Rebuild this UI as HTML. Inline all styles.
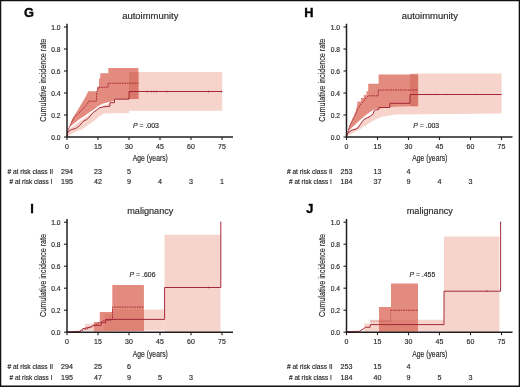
<!DOCTYPE html>
<html><head><meta charset="utf-8"><style>
html,body{margin:0;padding:0;background:#fff;}
svg{display:block;filter:blur(0.35px);}
svg.bd{position:absolute;left:0;top:0;filter:none;}
body{position:relative;width:520px;height:387px;overflow:hidden;}
text{font-family:"Liberation Sans", sans-serif;stroke:#2a2a2a;stroke-width:0.17px;}
</style></head><body>
<svg width="520" height="387" viewBox="0 0 520 387">
<rect x="0" y="0" width="520" height="387" fill="#fff"/>
<polygon points="67.0,137.0 67.7,131.5 69.2,129.4 71.5,127.5 74.0,125.8 76.1,124.0 79.2,121.5 82.3,119.5 85.4,117.4 88.5,115.3 91.6,113.0 94.5,111.0 97.0,109.2 99.1,107.5 103.2,105.5 109.0,103.5 114.5,101.0 129.0,95.0 129.0,72.0 222.2,72.0 222.2,110.8 129.0,110.8 129.0,112.9 104.0,113.4 99.1,116.5 96.0,119.5 89.3,124.2 81.5,129.6 73.8,132.7 69.0,135.5" fill="#f6d3cb"/>
<polygon points="67.0,137.0 68.0,130.0 70.0,125.0 71.7,120.0 75.3,114.1 78.4,108.9 81.5,103.8 84.6,98.6 86.7,94.5 88.2,91.2 97.0,91.2 97.0,86.7 99.0,86.7 99.0,78.5 100.3,78.5 100.3,73.3 108.3,73.3 108.3,67.9 138.4,67.9 138.4,99.0 114.5,99.3 114.5,101.0 109.9,101.8 103.2,103.5 99.1,105.5 97.0,107.0 94.5,109.0 91.6,111.0 88.5,113.1 85.4,115.2 82.3,117.3 79.2,119.3 76.1,121.8 73.0,124.3 70.5,126.3 68.5,129.5 67.5,133.0" fill="#e38b7e"/>
<polygon points="129.0,72.0 138.4,72.0 138.4,99.0 129.0,99.0" fill="#d9776a"/>
<polyline points="67.0,137.0 67.5,133.0 69.1,131.1 71.4,129.6 75.3,128.6 77.5,127.3 79.5,125.6 81.8,122.8 84.0,120.8 86.5,119.6 88.5,118.0 90.0,116.2 91.7,114.1 93.3,112.4 96.5,110.2 99.1,107.9 103.2,106.9 109.9,106.2 109.9,102.7 114.5,102.7 114.5,99.2 129.0,99.2 129.0,91.5 222.2,91.5" fill="none" stroke="#a02232" stroke-width="0.95"/>
<polyline points="67.0,137.0 67.8,131.0 69.5,126.5 72.5,121.0 74.0,117.2 77.1,114.7 80.2,111.6 84.0,107.8 87.5,104.0 88.5,101.2 96.3,101.2 96.8,92.0 98.5,87.3 108.1,87.3 108.1,83.2 138.4,83.2" fill="none" stroke="#a02232" stroke-width="0.95" stroke-dasharray="1.6,0.9"/>
<rect x="146.7" y="90.7" width="0.8" height="1.7" fill="#a02232"/>
<rect x="151.0" y="90.7" width="0.8" height="1.7" fill="#a02232"/>
<rect x="153.6" y="90.7" width="0.8" height="1.7" fill="#a02232"/>
<rect x="156.2" y="90.7" width="0.8" height="1.7" fill="#a02232"/>
<rect x="166.6" y="90.7" width="0.8" height="1.7" fill="#a02232"/>
<rect x="208.1" y="90.7" width="0.8" height="1.7" fill="#a02232"/>
<rect x="221.1" y="90.7" width="0.8" height="1.7" fill="#a02232"/>
<polygon points="346.5,137.0 347.1,133.3 349.1,131.2 352.2,129.2 355.0,128.6 357.7,127.3 360.4,123.6 362.2,120.9 364.0,118.7 367.7,116.8 370.4,115.5 373.1,112.8 378.0,108.5 390.0,104.0 410.0,95.0 410.0,73.4 501.6,73.4 501.6,113.5 395.0,114.5 382.0,116.7 378.5,118.1 373.1,120.8 368.0,124.0 364.0,126.5 358.0,130.5 352.0,133.5 348.0,135.8" fill="#f6d3cb"/>
<polygon points="346.5,137.0 347.8,131.0 349.3,126.0 351.5,121.0 353.8,116.0 355.7,111.5 356.8,106.5 357.4,103.5 357.4,101.6 361.0,101.6 361.0,98.0 363.8,98.0 363.8,94.9 366.5,94.9 366.5,91.2 368.2,91.2 368.2,83.8 378.6,83.8 378.6,74.4 418.1,74.4 418.1,106.2 410.0,106.2 395.0,106.8 389.8,107.2 378.5,108.4 373.1,110.0 368.0,113.5 364.0,116.5 360.0,120.0 356.0,123.8 352.0,127.5 349.0,130.5 347.5,133.5" fill="#e38b7e"/>
<polygon points="410.0,74.4 418.1,74.4 418.1,106.2 410.0,106.2" fill="#d9776a"/>
<polyline points="346.5,137.0 347.1,134.1 349.1,132.0 352.2,130.0 355.0,129.4 357.7,128.1 360.4,124.4 362.2,121.7 364.0,119.5 367.7,117.6 370.4,116.3 373.1,113.6 374.0,110.9 375.8,110.0 378.8,109.5 378.8,107.5 389.8,107.5 389.8,103.3 410.0,103.3 410.0,94.5 501.6,94.5" fill="none" stroke="#a02232" stroke-width="0.95"/>
<polyline points="346.5,137.0 348.3,131.0 349.8,126.0 351.8,121.5 354.3,117.0 356.3,112.4 358.2,108.3 359.8,106.0 361.2,104.1 363.0,102.1 364.8,100.0 366.5,97.5 368.3,95.8 378.3,95.8 378.3,90.0 418.1,90.0" fill="none" stroke="#a02232" stroke-width="0.95" stroke-dasharray="1.6,0.9"/>
<rect x="425.6" y="93.8" width="0.7" height="1.3" fill="#a02232"/>
<rect x="428.6" y="93.8" width="0.7" height="1.3" fill="#a02232"/>
<rect x="431.6" y="93.8" width="0.7" height="1.3" fill="#a02232"/>
<rect x="434.6" y="93.8" width="0.7" height="1.3" fill="#a02232"/>
<rect x="437.1" y="93.8" width="0.7" height="1.3" fill="#a02232"/>
<rect x="445.6" y="93.8" width="0.7" height="1.3" fill="#a02232"/>
<rect x="476.6" y="93.8" width="0.7" height="1.3" fill="#a02232"/>
<polygon points="164.6,234.7 220.5,234.7 220.5,332.0 164.6,332.0" fill="#f6d3cb"/>
<polygon points="112.3,309.6 164.6,309.6 164.6,330.5 104.4,330.5 104.4,314.0 112.3,314.0" fill="#f6d3cb"/>
<polygon points="85.0,323.8 104.4,323.8 104.4,331.0 85.0,331.0" fill="#f6d3cb"/>
<polygon points="93.8,331.5 93.8,322.0 99.8,322.0 99.8,312.0 112.3,312.0 112.3,285.0 143.9,285.0 143.9,331.0" fill="#e38b7e"/>
<polygon points="112.3,309.6 143.9,309.6 143.9,330.5 104.4,330.5 104.4,314.0 112.3,314.0" fill="#de8274"/>
<polyline points="67.0,332.0 79.6,331.5 83.0,328.7 91.2,326.9 93.5,325.3 101.0,325.3 101.5,322.6 105.7,322.6 105.7,319.4 164.6,319.4 164.6,287.5 220.8,287.5 220.8,221.6" fill="none" stroke="#a02232" stroke-width="0.95"/>
<polyline points="67.0,332.0 80.0,331.2 88.0,328.5 93.8,325.5 100.0,322.5 104.0,320.5 112.5,320.0 112.5,307.1 143.9,307.1" fill="none" stroke="#a02232" stroke-width="0.95" stroke-dasharray="1.6,0.9"/>
<rect x="208.3" y="286.6" width="0.8" height="1.7" fill="#a02232"/>
<polygon points="444.0,236.5 499.4,236.5 499.4,332.0 444.0,332.0" fill="#f6d3cb"/>
<polygon points="370.0,319.8 444.0,319.8 444.0,331.5 370.0,331.5" fill="#f6d3cb"/>
<polygon points="364.2,323.5 370.0,323.5 370.0,332.0 364.2,332.0" fill="#f6d3cb"/>
<polygon points="379.0,331.5 379.0,307.0 391.0,307.0 391.0,283.6 418.0,283.6 418.0,331.5" fill="#e38b7e"/>
<polygon points="379.0,319.8 418.0,319.8 418.0,331.5 379.0,331.5" fill="#de8274"/>
<polyline points="346.5,331.6 359.6,331.3 363.0,329.2 365.4,327.3 370.0,327.3 370.6,324.6 444.0,324.6 444.0,291.2 500.6,291.2 500.6,221.6" fill="none" stroke="#a02232" stroke-width="0.95"/>
<polyline opacity="0.45" points="370.7,321.2 390.6,321.2 390.6,310.3" fill="none" stroke="#a02232" stroke-width="0.95" stroke-dasharray="1.6,0.9"/>
<polyline points="390.6,310.3 418.0,310.3" fill="none" stroke="#a02232" stroke-width="0.95" stroke-dasharray="1.6,0.9"/>
<rect x="486.6" y="290.3" width="0.8" height="1.7" fill="#a02232"/>
<path d="M67.0,23.8 V137.0 H233.0" fill="none" stroke="#231f20" stroke-width="1.5"/>
<path d="M64.0,137.0 H67.0" stroke="#231f20" stroke-width="1.1"/>
<text x="60.6" y="139.6" text-anchor="end" font-size="7.3" fill="#2a2a2a" textLength="9.3" lengthAdjust="spacingAndGlyphs">0.0</text>
<path d="M64.0,115.0 H67.0" stroke="#231f20" stroke-width="1.1"/>
<text x="60.6" y="117.6" text-anchor="end" font-size="7.3" fill="#2a2a2a" textLength="9.3" lengthAdjust="spacingAndGlyphs">0.2</text>
<path d="M64.0,93.0 H67.0" stroke="#231f20" stroke-width="1.1"/>
<text x="60.6" y="95.6" text-anchor="end" font-size="7.3" fill="#2a2a2a" textLength="9.3" lengthAdjust="spacingAndGlyphs">0.4</text>
<path d="M64.0,71.0 H67.0" stroke="#231f20" stroke-width="1.1"/>
<text x="60.6" y="73.6" text-anchor="end" font-size="7.3" fill="#2a2a2a" textLength="9.3" lengthAdjust="spacingAndGlyphs">0.6</text>
<path d="M64.0,49.0 H67.0" stroke="#231f20" stroke-width="1.1"/>
<text x="60.6" y="51.6" text-anchor="end" font-size="7.3" fill="#2a2a2a" textLength="9.3" lengthAdjust="spacingAndGlyphs">0.8</text>
<path d="M64.0,27.0 H67.0" stroke="#231f20" stroke-width="1.1"/>
<text x="60.6" y="29.6" text-anchor="end" font-size="7.3" fill="#2a2a2a" textLength="9.3" lengthAdjust="spacingAndGlyphs">1.0</text>
<path d="M67.0,137.0 V140.0" stroke="#231f20" stroke-width="1.1"/>
<text x="67.0" y="149.2" text-anchor="middle" font-size="7.8" fill="#2a2a2a" textLength="3.9" lengthAdjust="spacingAndGlyphs">0</text>
<path d="M98.0,137.0 V140.0" stroke="#231f20" stroke-width="1.1"/>
<text x="98.0" y="149.2" text-anchor="middle" font-size="7.8" fill="#2a2a2a" textLength="7.8" lengthAdjust="spacingAndGlyphs">15</text>
<path d="M129.0,137.0 V140.0" stroke="#231f20" stroke-width="1.1"/>
<text x="129.0" y="149.2" text-anchor="middle" font-size="7.8" fill="#2a2a2a" textLength="7.8" lengthAdjust="spacingAndGlyphs">30</text>
<path d="M160.0,137.0 V140.0" stroke="#231f20" stroke-width="1.1"/>
<text x="160.0" y="149.2" text-anchor="middle" font-size="7.8" fill="#2a2a2a" textLength="7.8" lengthAdjust="spacingAndGlyphs">45</text>
<path d="M191.0,137.0 V140.0" stroke="#231f20" stroke-width="1.1"/>
<text x="191.0" y="149.2" text-anchor="middle" font-size="7.8" fill="#2a2a2a" textLength="7.8" lengthAdjust="spacingAndGlyphs">60</text>
<path d="M222.0,137.0 V140.0" stroke="#231f20" stroke-width="1.1"/>
<text x="222.0" y="149.2" text-anchor="middle" font-size="7.8" fill="#2a2a2a" textLength="7.8" lengthAdjust="spacingAndGlyphs">75</text>
<text x="33.9" y="17.3" text-anchor="end" font-size="12.8" font-weight="bold" fill="#000" style="stroke:#000;stroke-width:0.35px">G</text>
<text x="150.3" y="18.5" text-anchor="middle" font-size="9.3" fill="#2a2a2a" textLength="56.3" lengthAdjust="spacingAndGlyphs">autoimmunity</text>
<text transform="translate(45.7,80.2) rotate(-90)" x="0" y="0" text-anchor="middle" font-size="9.2" fill="#2a2a2a" textLength="83" lengthAdjust="spacingAndGlyphs">Cumulative incidence rate</text>
<text x="150.3" y="161.3" text-anchor="middle" font-size="8.6" fill="#2a2a2a" textLength="35" lengthAdjust="spacingAndGlyphs">Age (years)</text>
<text x="53.1" y="174.0" text-anchor="end" font-size="7" fill="#2a2a2a" textLength="45.7" lengthAdjust="spacingAndGlyphs"># at risk class II</text>
<text x="52.3" y="184.3" text-anchor="end" font-size="7" fill="#2a2a2a" textLength="42.8" lengthAdjust="spacingAndGlyphs"># at risk class I</text>
<text x="67.0" y="174.0" text-anchor="middle" font-size="7.2" fill="#2a2a2a" textLength="11.9" lengthAdjust="spacingAndGlyphs">294</text>
<text x="98.0" y="174.0" text-anchor="middle" font-size="7.2" fill="#2a2a2a" textLength="7.9" lengthAdjust="spacingAndGlyphs">23</text>
<text x="129.0" y="174.0" text-anchor="middle" font-size="7.2" fill="#2a2a2a" textLength="4.0" lengthAdjust="spacingAndGlyphs">5</text>
<text x="67.0" y="184.3" text-anchor="middle" font-size="7.2" fill="#2a2a2a" textLength="11.9" lengthAdjust="spacingAndGlyphs">195</text>
<text x="98.0" y="184.3" text-anchor="middle" font-size="7.2" fill="#2a2a2a" textLength="7.9" lengthAdjust="spacingAndGlyphs">42</text>
<text x="129.0" y="184.3" text-anchor="middle" font-size="7.2" fill="#2a2a2a" textLength="4.0" lengthAdjust="spacingAndGlyphs">9</text>
<text x="160.0" y="184.3" text-anchor="middle" font-size="7.2" fill="#2a2a2a" textLength="4.0" lengthAdjust="spacingAndGlyphs">4</text>
<text x="191.0" y="184.3" text-anchor="middle" font-size="7.2" fill="#2a2a2a" textLength="4.0" lengthAdjust="spacingAndGlyphs">3</text>
<text x="222.0" y="184.3" text-anchor="middle" font-size="7.2" fill="#2a2a2a" textLength="4.0" lengthAdjust="spacingAndGlyphs">1</text>
<text x="133.0" y="127.8" font-size="7" fill="#2a2a2a" textLength="25.9" lengthAdjust="spacingAndGlyphs"><tspan font-style="italic">P</tspan> = .003</text>
<path d="M346.5,23.8 V137.0 H512.5" fill="none" stroke="#231f20" stroke-width="1.5"/>
<path d="M343.5,137.0 H346.5" stroke="#231f20" stroke-width="1.1"/>
<text x="340.1" y="139.6" text-anchor="end" font-size="7.3" fill="#2a2a2a" textLength="9.3" lengthAdjust="spacingAndGlyphs">0.0</text>
<path d="M343.5,115.0 H346.5" stroke="#231f20" stroke-width="1.1"/>
<text x="340.1" y="117.6" text-anchor="end" font-size="7.3" fill="#2a2a2a" textLength="9.3" lengthAdjust="spacingAndGlyphs">0.2</text>
<path d="M343.5,93.0 H346.5" stroke="#231f20" stroke-width="1.1"/>
<text x="340.1" y="95.6" text-anchor="end" font-size="7.3" fill="#2a2a2a" textLength="9.3" lengthAdjust="spacingAndGlyphs">0.4</text>
<path d="M343.5,71.0 H346.5" stroke="#231f20" stroke-width="1.1"/>
<text x="340.1" y="73.6" text-anchor="end" font-size="7.3" fill="#2a2a2a" textLength="9.3" lengthAdjust="spacingAndGlyphs">0.6</text>
<path d="M343.5,49.0 H346.5" stroke="#231f20" stroke-width="1.1"/>
<text x="340.1" y="51.6" text-anchor="end" font-size="7.3" fill="#2a2a2a" textLength="9.3" lengthAdjust="spacingAndGlyphs">0.8</text>
<path d="M343.5,27.0 H346.5" stroke="#231f20" stroke-width="1.1"/>
<text x="340.1" y="29.6" text-anchor="end" font-size="7.3" fill="#2a2a2a" textLength="9.3" lengthAdjust="spacingAndGlyphs">1.0</text>
<path d="M346.5,137.0 V140.0" stroke="#231f20" stroke-width="1.1"/>
<text x="346.5" y="149.2" text-anchor="middle" font-size="7.8" fill="#2a2a2a" textLength="3.9" lengthAdjust="spacingAndGlyphs">0</text>
<path d="M377.5,137.0 V140.0" stroke="#231f20" stroke-width="1.1"/>
<text x="377.5" y="149.2" text-anchor="middle" font-size="7.8" fill="#2a2a2a" textLength="7.8" lengthAdjust="spacingAndGlyphs">15</text>
<path d="M408.5,137.0 V140.0" stroke="#231f20" stroke-width="1.1"/>
<text x="408.5" y="149.2" text-anchor="middle" font-size="7.8" fill="#2a2a2a" textLength="7.8" lengthAdjust="spacingAndGlyphs">30</text>
<path d="M439.5,137.0 V140.0" stroke="#231f20" stroke-width="1.1"/>
<text x="439.5" y="149.2" text-anchor="middle" font-size="7.8" fill="#2a2a2a" textLength="7.8" lengthAdjust="spacingAndGlyphs">45</text>
<path d="M470.5,137.0 V140.0" stroke="#231f20" stroke-width="1.1"/>
<text x="470.5" y="149.2" text-anchor="middle" font-size="7.8" fill="#2a2a2a" textLength="7.8" lengthAdjust="spacingAndGlyphs">60</text>
<path d="M501.5,137.0 V140.0" stroke="#231f20" stroke-width="1.1"/>
<text x="501.5" y="149.2" text-anchor="middle" font-size="7.8" fill="#2a2a2a" textLength="7.8" lengthAdjust="spacingAndGlyphs">75</text>
<text x="313.4" y="17.3" text-anchor="end" font-size="12.8" font-weight="bold" fill="#000" style="stroke:#000;stroke-width:0.35px">H</text>
<text x="429.8" y="18.5" text-anchor="middle" font-size="9.3" fill="#2a2a2a" textLength="56.3" lengthAdjust="spacingAndGlyphs">autoimmunity</text>
<text transform="translate(325.2,80.2) rotate(-90)" x="0" y="0" text-anchor="middle" font-size="9.2" fill="#2a2a2a" textLength="83" lengthAdjust="spacingAndGlyphs">Cumulative incidence rate</text>
<text x="429.8" y="161.3" text-anchor="middle" font-size="8.6" fill="#2a2a2a" textLength="35" lengthAdjust="spacingAndGlyphs">Age (years)</text>
<text x="332.6" y="174.0" text-anchor="end" font-size="7" fill="#2a2a2a" textLength="45.7" lengthAdjust="spacingAndGlyphs"># at risk class II</text>
<text x="331.8" y="184.3" text-anchor="end" font-size="7" fill="#2a2a2a" textLength="42.8" lengthAdjust="spacingAndGlyphs"># at risk class I</text>
<text x="346.5" y="174.0" text-anchor="middle" font-size="7.2" fill="#2a2a2a" textLength="11.9" lengthAdjust="spacingAndGlyphs">253</text>
<text x="377.5" y="174.0" text-anchor="middle" font-size="7.2" fill="#2a2a2a" textLength="7.9" lengthAdjust="spacingAndGlyphs">13</text>
<text x="408.5" y="174.0" text-anchor="middle" font-size="7.2" fill="#2a2a2a" textLength="4.0" lengthAdjust="spacingAndGlyphs">4</text>
<text x="346.5" y="184.3" text-anchor="middle" font-size="7.2" fill="#2a2a2a" textLength="11.9" lengthAdjust="spacingAndGlyphs">184</text>
<text x="377.5" y="184.3" text-anchor="middle" font-size="7.2" fill="#2a2a2a" textLength="7.9" lengthAdjust="spacingAndGlyphs">37</text>
<text x="408.5" y="184.3" text-anchor="middle" font-size="7.2" fill="#2a2a2a" textLength="4.0" lengthAdjust="spacingAndGlyphs">9</text>
<text x="439.5" y="184.3" text-anchor="middle" font-size="7.2" fill="#2a2a2a" textLength="4.0" lengthAdjust="spacingAndGlyphs">4</text>
<text x="470.5" y="184.3" text-anchor="middle" font-size="7.2" fill="#2a2a2a" textLength="4.0" lengthAdjust="spacingAndGlyphs">3</text>
<text x="413.3" y="127.8" font-size="7" fill="#2a2a2a" textLength="25.9" lengthAdjust="spacingAndGlyphs"><tspan font-style="italic">P</tspan> = .003</text>
<path d="M67.0,219.0 V332.2 H233.0" fill="none" stroke="#231f20" stroke-width="1.5"/>
<path d="M64.0,332.2 H67.0" stroke="#231f20" stroke-width="1.1"/>
<text x="60.6" y="334.8" text-anchor="end" font-size="7.3" fill="#2a2a2a" textLength="9.3" lengthAdjust="spacingAndGlyphs">0.0</text>
<path d="M64.0,310.2 H67.0" stroke="#231f20" stroke-width="1.1"/>
<text x="60.6" y="312.8" text-anchor="end" font-size="7.3" fill="#2a2a2a" textLength="9.3" lengthAdjust="spacingAndGlyphs">0.2</text>
<path d="M64.0,288.2 H67.0" stroke="#231f20" stroke-width="1.1"/>
<text x="60.6" y="290.8" text-anchor="end" font-size="7.3" fill="#2a2a2a" textLength="9.3" lengthAdjust="spacingAndGlyphs">0.4</text>
<path d="M64.0,266.2 H67.0" stroke="#231f20" stroke-width="1.1"/>
<text x="60.6" y="268.8" text-anchor="end" font-size="7.3" fill="#2a2a2a" textLength="9.3" lengthAdjust="spacingAndGlyphs">0.6</text>
<path d="M64.0,244.2 H67.0" stroke="#231f20" stroke-width="1.1"/>
<text x="60.6" y="246.8" text-anchor="end" font-size="7.3" fill="#2a2a2a" textLength="9.3" lengthAdjust="spacingAndGlyphs">0.8</text>
<path d="M64.0,222.2 H67.0" stroke="#231f20" stroke-width="1.1"/>
<text x="60.6" y="224.8" text-anchor="end" font-size="7.3" fill="#2a2a2a" textLength="9.3" lengthAdjust="spacingAndGlyphs">1.0</text>
<path d="M67.0,332.2 V335.2" stroke="#231f20" stroke-width="1.1"/>
<text x="67.0" y="344.4" text-anchor="middle" font-size="7.8" fill="#2a2a2a" textLength="3.9" lengthAdjust="spacingAndGlyphs">0</text>
<path d="M98.0,332.2 V335.2" stroke="#231f20" stroke-width="1.1"/>
<text x="98.0" y="344.4" text-anchor="middle" font-size="7.8" fill="#2a2a2a" textLength="7.8" lengthAdjust="spacingAndGlyphs">15</text>
<path d="M129.0,332.2 V335.2" stroke="#231f20" stroke-width="1.1"/>
<text x="129.0" y="344.4" text-anchor="middle" font-size="7.8" fill="#2a2a2a" textLength="7.8" lengthAdjust="spacingAndGlyphs">30</text>
<path d="M160.0,332.2 V335.2" stroke="#231f20" stroke-width="1.1"/>
<text x="160.0" y="344.4" text-anchor="middle" font-size="7.8" fill="#2a2a2a" textLength="7.8" lengthAdjust="spacingAndGlyphs">45</text>
<path d="M191.0,332.2 V335.2" stroke="#231f20" stroke-width="1.1"/>
<text x="191.0" y="344.4" text-anchor="middle" font-size="7.8" fill="#2a2a2a" textLength="7.8" lengthAdjust="spacingAndGlyphs">60</text>
<path d="M222.0,332.2 V335.2" stroke="#231f20" stroke-width="1.1"/>
<text x="222.0" y="344.4" text-anchor="middle" font-size="7.8" fill="#2a2a2a" textLength="7.8" lengthAdjust="spacingAndGlyphs">75</text>
<text x="33.9" y="212.5" text-anchor="end" font-size="12.8" font-weight="bold" fill="#000" style="stroke:#000;stroke-width:0.35px">I</text>
<text x="150.3" y="213.7" text-anchor="middle" font-size="9.3" fill="#2a2a2a" textLength="46.1" lengthAdjust="spacingAndGlyphs">malignancy</text>
<text transform="translate(45.7,275.4) rotate(-90)" x="0" y="0" text-anchor="middle" font-size="9.2" fill="#2a2a2a" textLength="83" lengthAdjust="spacingAndGlyphs">Cumulative incidence rate</text>
<text x="150.3" y="356.5" text-anchor="middle" font-size="8.6" fill="#2a2a2a" textLength="35" lengthAdjust="spacingAndGlyphs">Age (years)</text>
<text x="53.1" y="369.2" text-anchor="end" font-size="7" fill="#2a2a2a" textLength="45.7" lengthAdjust="spacingAndGlyphs"># at risk class II</text>
<text x="52.3" y="379.5" text-anchor="end" font-size="7" fill="#2a2a2a" textLength="42.8" lengthAdjust="spacingAndGlyphs"># at risk class I</text>
<text x="67.0" y="369.2" text-anchor="middle" font-size="7.2" fill="#2a2a2a" textLength="11.9" lengthAdjust="spacingAndGlyphs">294</text>
<text x="98.0" y="369.2" text-anchor="middle" font-size="7.2" fill="#2a2a2a" textLength="7.9" lengthAdjust="spacingAndGlyphs">25</text>
<text x="129.0" y="369.2" text-anchor="middle" font-size="7.2" fill="#2a2a2a" textLength="4.0" lengthAdjust="spacingAndGlyphs">6</text>
<text x="67.0" y="379.5" text-anchor="middle" font-size="7.2" fill="#2a2a2a" textLength="11.9" lengthAdjust="spacingAndGlyphs">195</text>
<text x="98.0" y="379.5" text-anchor="middle" font-size="7.2" fill="#2a2a2a" textLength="7.9" lengthAdjust="spacingAndGlyphs">47</text>
<text x="129.0" y="379.5" text-anchor="middle" font-size="7.2" fill="#2a2a2a" textLength="4.0" lengthAdjust="spacingAndGlyphs">9</text>
<text x="160.0" y="379.5" text-anchor="middle" font-size="7.2" fill="#2a2a2a" textLength="4.0" lengthAdjust="spacingAndGlyphs">5</text>
<text x="191.0" y="379.5" text-anchor="middle" font-size="7.2" fill="#2a2a2a" textLength="4.0" lengthAdjust="spacingAndGlyphs">3</text>
<text x="129.6" y="276.6" font-size="7" fill="#2a2a2a" textLength="25.9" lengthAdjust="spacingAndGlyphs"><tspan font-style="italic">P</tspan> = .606</text>
<path d="M346.5,219.0 V332.2 H512.5" fill="none" stroke="#231f20" stroke-width="1.5"/>
<path d="M343.5,332.2 H346.5" stroke="#231f20" stroke-width="1.1"/>
<text x="340.1" y="334.8" text-anchor="end" font-size="7.3" fill="#2a2a2a" textLength="9.3" lengthAdjust="spacingAndGlyphs">0.0</text>
<path d="M343.5,310.2 H346.5" stroke="#231f20" stroke-width="1.1"/>
<text x="340.1" y="312.8" text-anchor="end" font-size="7.3" fill="#2a2a2a" textLength="9.3" lengthAdjust="spacingAndGlyphs">0.2</text>
<path d="M343.5,288.2 H346.5" stroke="#231f20" stroke-width="1.1"/>
<text x="340.1" y="290.8" text-anchor="end" font-size="7.3" fill="#2a2a2a" textLength="9.3" lengthAdjust="spacingAndGlyphs">0.4</text>
<path d="M343.5,266.2 H346.5" stroke="#231f20" stroke-width="1.1"/>
<text x="340.1" y="268.8" text-anchor="end" font-size="7.3" fill="#2a2a2a" textLength="9.3" lengthAdjust="spacingAndGlyphs">0.6</text>
<path d="M343.5,244.2 H346.5" stroke="#231f20" stroke-width="1.1"/>
<text x="340.1" y="246.8" text-anchor="end" font-size="7.3" fill="#2a2a2a" textLength="9.3" lengthAdjust="spacingAndGlyphs">0.8</text>
<path d="M343.5,222.2 H346.5" stroke="#231f20" stroke-width="1.1"/>
<text x="340.1" y="224.8" text-anchor="end" font-size="7.3" fill="#2a2a2a" textLength="9.3" lengthAdjust="spacingAndGlyphs">1.0</text>
<path d="M346.5,332.2 V335.2" stroke="#231f20" stroke-width="1.1"/>
<text x="346.5" y="344.4" text-anchor="middle" font-size="7.8" fill="#2a2a2a" textLength="3.9" lengthAdjust="spacingAndGlyphs">0</text>
<path d="M377.5,332.2 V335.2" stroke="#231f20" stroke-width="1.1"/>
<text x="377.5" y="344.4" text-anchor="middle" font-size="7.8" fill="#2a2a2a" textLength="7.8" lengthAdjust="spacingAndGlyphs">15</text>
<path d="M408.5,332.2 V335.2" stroke="#231f20" stroke-width="1.1"/>
<text x="408.5" y="344.4" text-anchor="middle" font-size="7.8" fill="#2a2a2a" textLength="7.8" lengthAdjust="spacingAndGlyphs">30</text>
<path d="M439.5,332.2 V335.2" stroke="#231f20" stroke-width="1.1"/>
<text x="439.5" y="344.4" text-anchor="middle" font-size="7.8" fill="#2a2a2a" textLength="7.8" lengthAdjust="spacingAndGlyphs">45</text>
<path d="M470.5,332.2 V335.2" stroke="#231f20" stroke-width="1.1"/>
<text x="470.5" y="344.4" text-anchor="middle" font-size="7.8" fill="#2a2a2a" textLength="7.8" lengthAdjust="spacingAndGlyphs">60</text>
<path d="M501.5,332.2 V335.2" stroke="#231f20" stroke-width="1.1"/>
<text x="501.5" y="344.4" text-anchor="middle" font-size="7.8" fill="#2a2a2a" textLength="7.8" lengthAdjust="spacingAndGlyphs">75</text>
<text x="313.4" y="212.5" text-anchor="end" font-size="12.8" font-weight="bold" fill="#000" style="stroke:#000;stroke-width:0.35px">J</text>
<text x="429.8" y="213.7" text-anchor="middle" font-size="9.3" fill="#2a2a2a" textLength="46.1" lengthAdjust="spacingAndGlyphs">malignancy</text>
<text transform="translate(325.2,275.4) rotate(-90)" x="0" y="0" text-anchor="middle" font-size="9.2" fill="#2a2a2a" textLength="83" lengthAdjust="spacingAndGlyphs">Cumulative incidence rate</text>
<text x="429.8" y="356.5" text-anchor="middle" font-size="8.6" fill="#2a2a2a" textLength="35" lengthAdjust="spacingAndGlyphs">Age (years)</text>
<text x="332.6" y="369.2" text-anchor="end" font-size="7" fill="#2a2a2a" textLength="45.7" lengthAdjust="spacingAndGlyphs"># at risk class II</text>
<text x="331.8" y="379.5" text-anchor="end" font-size="7" fill="#2a2a2a" textLength="42.8" lengthAdjust="spacingAndGlyphs"># at risk class I</text>
<text x="346.5" y="369.2" text-anchor="middle" font-size="7.2" fill="#2a2a2a" textLength="11.9" lengthAdjust="spacingAndGlyphs">253</text>
<text x="377.5" y="369.2" text-anchor="middle" font-size="7.2" fill="#2a2a2a" textLength="7.9" lengthAdjust="spacingAndGlyphs">15</text>
<text x="408.5" y="369.2" text-anchor="middle" font-size="7.2" fill="#2a2a2a" textLength="4.0" lengthAdjust="spacingAndGlyphs">4</text>
<text x="346.5" y="379.5" text-anchor="middle" font-size="7.2" fill="#2a2a2a" textLength="11.9" lengthAdjust="spacingAndGlyphs">184</text>
<text x="377.5" y="379.5" text-anchor="middle" font-size="7.2" fill="#2a2a2a" textLength="7.9" lengthAdjust="spacingAndGlyphs">40</text>
<text x="408.5" y="379.5" text-anchor="middle" font-size="7.2" fill="#2a2a2a" textLength="4.0" lengthAdjust="spacingAndGlyphs">9</text>
<text x="439.5" y="379.5" text-anchor="middle" font-size="7.2" fill="#2a2a2a" textLength="4.0" lengthAdjust="spacingAndGlyphs">5</text>
<text x="470.5" y="379.5" text-anchor="middle" font-size="7.2" fill="#2a2a2a" textLength="4.0" lengthAdjust="spacingAndGlyphs">3</text>
<text x="409.4" y="276.6" font-size="7" fill="#2a2a2a" textLength="25.9" lengthAdjust="spacingAndGlyphs"><tspan font-style="italic">P</tspan> = .455</text>
</svg>
<svg class="bd" width="520" height="387" viewBox="0 0 520 387">
<rect x="0" y="0" width="520" height="1.25" fill="#111"/>
<rect x="0" y="0" width="1.25" height="387" fill="#111"/>
<rect x="518.7" y="0" width="1.3" height="387" fill="#111"/>
<rect x="0" y="385.5" width="520" height="1.5" fill="#111"/>
</svg>
</body></html>
